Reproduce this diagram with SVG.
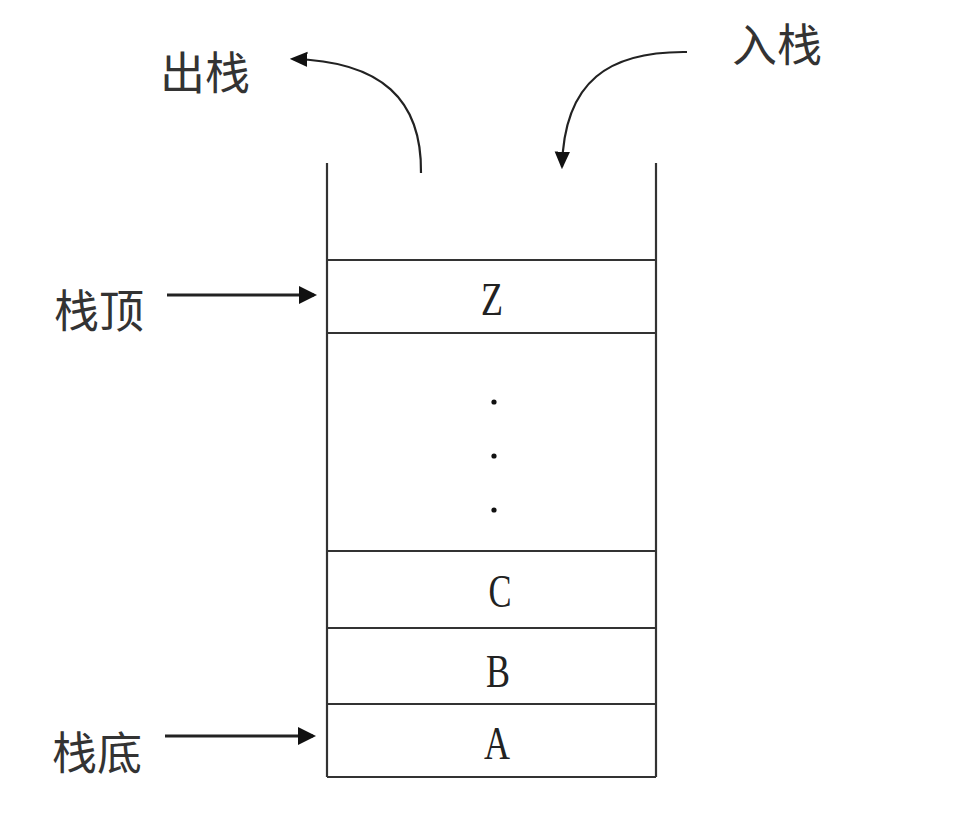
<svg xmlns="http://www.w3.org/2000/svg" width="956" height="817" viewBox="0 0 956 817">
<style>
.wall{stroke:#333;stroke-width:2.2;fill:none}
.arr{stroke:#222;fill:none}
.cjk{font-family:"Noto Sans CJK SC","Noto Sans CJK JP",sans-serif;font-size:45px;fill:#333}
.lt{font-family:"Liberation Serif",serif;font-size:46px;fill:#222;text-anchor:middle}
</style>
<defs>
<marker id="ah" markerWidth="6" markerHeight="6" refX="5" refY="3" orient="auto" markerUnits="strokeWidth">
<path d="M0,0 L6,3 L0,6 z" fill="#111"/>
</marker>
<marker id="ah2" markerWidth="8" markerHeight="8" refX="7" refY="4" orient="auto" markerUnits="strokeWidth">
<path d="M0,0.5 L8,4 L0,7.5 z" fill="#111"/>
</marker>
</defs>
<rect width="956" height="817" fill="#fff"/>
<g id="stack">
<line class="wall" x1="327" y1="163" x2="327" y2="777"/>
<line class="wall" x1="656" y1="163" x2="656" y2="777"/>
<line class="wall" x1="327" y1="260" x2="656" y2="260"/>
<line class="wall" x1="327" y1="333" x2="656" y2="333"/>
<line class="wall" x1="327" y1="551" x2="656" y2="551"/>
<line class="wall" x1="327" y1="628" x2="656" y2="628"/>
<line class="wall" x1="327" y1="704" x2="656" y2="704"/>
<line class="wall" x1="327" y1="777" x2="656" y2="777"/>
</g>
<g id="cell-z"><text class="lt" x="492" y="315" textLength="22" lengthAdjust="spacingAndGlyphs">Z</text></g>
<g id="cell-dots">
<circle cx="494" cy="402" r="2.6" fill="#111"/>
<circle cx="494" cy="456" r="2.6" fill="#111"/>
<circle cx="494" cy="510" r="2.6" fill="#111"/>
</g>
<g id="cell-c"><text class="lt" x="500" y="607" textLength="23" lengthAdjust="spacingAndGlyphs">C</text></g>
<g id="cell-b"><text class="lt" x="498" y="687" textLength="24" lengthAdjust="spacingAndGlyphs">B</text></g>
<g id="cell-a"><text class="lt" x="497" y="759" textLength="26" lengthAdjust="spacingAndGlyphs">A</text></g>
<g id="label-pop"><text class="cjk" x="160" y="90" font-size="44">出栈</text></g>
<g id="label-push"><text class="cjk" x="732" y="62">入栈</text></g>
<g id="label-top"><text class="cjk" x="54" y="328">栈顶</text></g>
<g id="label-bottom"><text class="cjk" x="52" y="770">栈底</text></g>
<g id="connectors">
<path class="arr" stroke-width="2.2" d="M421,173 C422,100 382,61 292,59" marker-end="url(#ah2)"/>
<path class="arr" stroke-width="2.2" d="M687,52 C610,51 564,80 562,167" marker-end="url(#ah2)"/>
<line class="arr" stroke-width="3" x1="167" y1="295" x2="314" y2="295" marker-end="url(#ah)"/>
<line class="arr" stroke-width="3" x1="165" y1="736" x2="313" y2="736" marker-end="url(#ah)"/>
</g>
</svg>
